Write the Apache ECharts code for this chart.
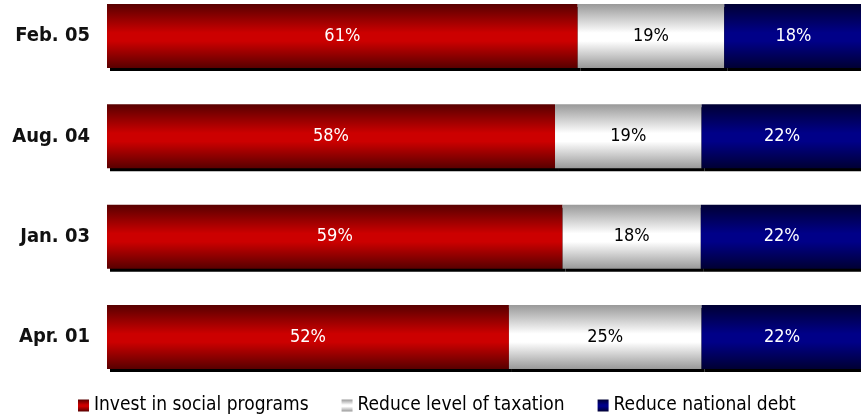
<!DOCTYPE html>
<html>
<head>
<meta charset="utf-8">
<script src="https://cdn.jsdelivr.net/npm/echarts@6/dist/echarts.min.js"></script>
<style>
html,body{margin:0;padding:0;background:#fff;}
#chart{width:861px;height:420px;}
</style>
</head>
<body>
<div id="chart"></div>
<script>
// Categories (top to bottom)
var categories = ['Feb. 05', 'Aug. 04', 'Jan. 03', 'Apr. 01'];
var seriesNames = ['Invest in social programs', 'Reduce level of taxation', 'Reduce national debt'];
// Bar segment widths as share of the full bar
var investValues = [62.3, 59.3, 60.3, 53.2];
var taxValues = [19.4, 19.4, 18.3, 25.5];
var debtValues = [18.3, 21.3, 21.4, 21.3];
// Printed labels
var investLabels = ['61%', '58%', '59%', '52%'];
var taxLabels = ['19%', '19%', '18%', '25%'];
var debtLabels = ['18%', '22%', '22%', '22%'];

function grad(edge, mid) {
  return new echarts.graphic.LinearGradient(0, 0, 0, 1, [
    {offset: 0, color: edge},
    {offset: 0.45, color: mid},
    {offset: 0.58, color: mid},
    {offset: 1, color: edge}
  ]);
}
var FONT = "'DejaVu Sans Condensed', 'DejaVu Sans', sans-serif";
var colors = [
  grad('#580000', '#cc0000'),
  grad('#999999', '#ffffff'),
  grad('#000033', '#000088')
];
var labelColors = ['#ffffff', '#000000', '#ffffff'];
var valueSets = [investValues, taxValues, debtValues];
var labelSets = [investLabels, taxLabels, debtLabels];

var series = seriesNames.map(function (name, i) {
  return {
    name: name,
    type: 'bar',
    stack: 'total',
    barWidth: 64,
    clip: false,
    data: valueSets[i],
    itemStyle: {
      color: colors[i],
      shadowColor: '#000',
      shadowOffsetX: 3,
      shadowOffsetY: 3,
      shadowBlur: 0
    },
    label: {
      show: true,
      position: 'inside',
      color: labelColors[i],
      fontFamily: FONT,
      fontSize: 18,
      formatter: function (p) { return labelSets[i][p.dataIndex]; }
    },
    emphasis: {disabled: true}
  };
});

var chart = echarts.init(document.getElementById('chart'), null, {renderer: 'canvas'});
chart.setOption({
  animation: false,
  grid: {left: 107, right: 0, top: 36, bottom: 83},
  xAxis: {type: 'value', min: 0, max: 99.8, show: false},
  yAxis: {
    type: 'category',
    data: categories,
    inverse: true,
    boundaryGap: false,
    axisLine: {show: false},
    axisTick: {show: false},
    splitLine: {show: false},
    axisLabel: {
      margin: 17,
      color: '#111',
      fontFamily: FONT,
      fontWeight: 'bold',
      fontSize: 20
    }
  },
  legend: {
    bottom: 0,
    left: 73,
    itemWidth: 11,
    itemHeight: 12,
    itemGap: 33,
    icon: 'rect',
    textStyle: {fontFamily: FONT, fontSize: 19, color: '#000'},
    data: seriesNames
  },
  series: series
});
</script>
</body>
</html>
